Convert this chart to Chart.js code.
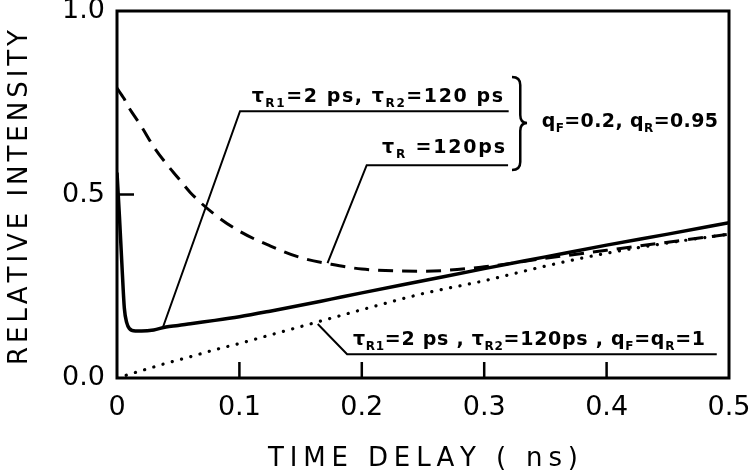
<!DOCTYPE html>
<html>
<head>
<meta charset="utf-8">
<script src="https://cdn.jsdelivr.net/npm/chart.js@4.4.1/dist/chart.umd.min.js"></script>
<style>
  html, body { margin: 0; padding: 0; background: #fff; }
  #wrap { width: 750px; height: 472px; position: relative; }
</style>
</head>
<body>
<div id="wrap"><canvas id="chart"></canvas></div>
<script>
// time delay (ns)
const times = [0, 0.002, 0.004, 0.006, 0.008, 0.01, 0.015, 0.02, 0.03, 0.04, 0.05, 0.06, 0.08,
  0.1, 0.125, 0.15, 0.175, 0.2, 0.25, 0.3, 0.35, 0.4, 0.45, 0.5];

// tauR1=2ps, tauR2=120ps, qF=0.2, qR=0.95 (solid)
const twoRotors = [0.56, 0.44, 0.31, 0.19, 0.15, 0.135, 0.128, 0.128, 0.131, 0.139, 0.143, 0.148, 0.157,
  0.167, 0.182, 0.198, 0.215, 0.232, 0.265, 0.298, 0.330, 0.362, 0.392, 0.423];

// tauR=120ps, qF=0.2, qR=0.95 (dashed)
const oneRotor = [0.79, 0.78, 0.77, 0.76, 0.745, 0.735, 0.71, 0.685, 0.63, 0.585, 0.545, 0.505, 0.445,
  0.40, 0.36, 0.328, 0.31, 0.297, 0.291, 0.303, 0.326, 0.348, 0.37, 0.392];

// tauR1=2ps, tauR2=120ps, qF=qR=1 (dotted)
const unitQ = [0, 0.002, 0.004, 0.006, 0.008, 0.01, 0.015, 0.02, 0.03, 0.04, 0.049, 0.058, 0.077,
  0.094, 0.117, 0.14, 0.163, 0.186, 0.23, 0.265, 0.305, 0.34, 0.368, 0.392];

const xTicks = [0, 0.1, 0.2, 0.3, 0.4, 0.5];
const yTicks = [0, 0.5, 1.0];

const toPoints = vals => times.map((t, i) => ({ x: t, y: vals[i] }));

// annotation text runs (sub = subscript)
const labelTop = [['τ'], ['R1', 1], ['=2 ps, τ'], ['R2', 1], ['=120 ps']];
const labelMid = [['τ'], ['R', 1], [' =120ps']];
const labelRight = [['q'], ['F', 1], ['=0.2, q'], ['R', 1], ['=0.95']];
const labelBottom = [['τ'], ['R1', 1], ['=2 ps , τ'], ['R2', 1], ['=120ps , q'], ['F', 1], ['=q'], ['R', 1], ['=1']];

const FONT = '"DejaVu Sans", sans-serif';

// draws runs so the text spans x0..x1
function fitRuns(ctx, runs, x0, x1, base, size, subSize) {
  let natural = 0, count = 0;
  runs.forEach(([txt, sub]) => {
    ctx.font = 'bold ' + (sub ? subSize : size) + 'px ' + FONT;
    for (const ch of txt) { natural += ctx.measureText(ch).width; count++; }
  });
  const gap = count > 1 ? (x1 - x0 - natural) / (count - 1) : 0;
  let x = x0;
  ctx.textAlign = 'left';
  ctx.textBaseline = 'alphabetic';
  runs.forEach(([txt, sub]) => {
    ctx.font = 'bold ' + (sub ? subSize : size) + 'px ' + FONT;
    for (const ch of txt) {
      ctx.fillText(ch, x, sub ? base + 5 : base);
      x += ctx.measureText(ch).width + gap;
    }
  });
}

function spacedText(ctx, txt, x0, x1, base, font) {
  ctx.font = font;
  let natural = 0;
  for (const ch of txt) natural += ctx.measureText(ch).width;
  const gap = (x1 - x0 - natural) / (txt.length - 1);
  let x = x0;
  ctx.textAlign = 'left';
  ctx.textBaseline = 'alphabetic';
  for (const ch of txt) {
    ctx.fillText(ch, x, base);
    x += ctx.measureText(ch).width + gap;
  }
}

const decorations = {
  id: 'decorations',
  afterDraw(chart) {
    const ctx = chart.ctx;
    const xs = chart.scales.x, ys = chart.scales.y;
    const a = chart.chartArea;
    const px = v => xs.getPixelForValue(v);
    const py = v => ys.getPixelForValue(v);
    ctx.save();
    ctx.strokeStyle = '#000';
    ctx.fillStyle = '#000';

    // frame
    ctx.lineWidth = 3;
    ctx.strokeRect(a.left, a.top, a.right - a.left, a.bottom - a.top);

    // inner tick marks
    ctx.lineWidth = 2.5;
    ctx.beginPath();
    xTicks.slice(1, -1).forEach(t => {
      ctx.moveTo(px(t), a.bottom);
      ctx.lineTo(px(t), a.bottom - 16);
    });
    yTicks.slice(1, -1).forEach(v => {
      ctx.moveTo(a.left, py(v));
      ctx.lineTo(a.left + 17, py(v));
    });
    ctx.stroke();

    // leader lines
    ctx.lineWidth = 2;
    const leader = pts => {
      ctx.beginPath();
      pts.forEach(([t, v], i) => i ? ctx.lineTo(px(t), py(v)) : ctx.moveTo(px(t), py(v)));
      ctx.stroke();
    };
    leader([[0.0376, 0.139], [0.1005, 0.727], [0.32, 0.727]]);
    leader([[0.172, 0.313], [0.204, 0.58], [0.3195, 0.58]]);
    leader([[0.164, 0.147], [0.188, 0.065], [0.49, 0.065]]);

    // brace
    const bx0 = px(0.3227), bx1 = px(0.335);
    const bt = py(0.82), bb = py(0.567), bm = py(0.695);
    const bc = bx0 + (bx1 - bx0) * 0.55;
    ctx.lineWidth = 2.5;
    ctx.beginPath();
    ctx.moveTo(bx0, bt);
    ctx.quadraticCurveTo(bc, bt, bc, bt + 8);
    ctx.lineTo(bc, bm - 8);
    ctx.quadraticCurveTo(bc, bm, bx1, bm);
    ctx.quadraticCurveTo(bc, bm, bc, bm + 8);
    ctx.lineTo(bc, bb - 8);
    ctx.quadraticCurveTo(bc, bb, bx0, bb);
    ctx.stroke();

    // annotation text
    fitRuns(ctx, labelTop, px(0.110), px(0.3154), py(0.752), 19, 12);
    fitRuns(ctx, labelMid, px(0.2165), px(0.317), py(0.613), 19, 12);
    fitRuns(ctx, labelRight, px(0.347), px(0.491), py(0.684), 19, 12);
    fitRuns(ctx, labelBottom, px(0.1928), px(0.4804), py(0.09), 19, 12);

    // axis titles
    spacedText(ctx, 'TIME DELAY ( ns)', 268, 578, 466, '26px ' + FONT);
    ctx.translate(27, 365);
    ctx.rotate(-Math.PI / 2);
    spacedText(ctx, 'RELATIVE INTENSITY', 0, 335, 0, '26px ' + FONT);
    ctx.restore();
  }
};

const lineStyle = {
  showLine: true,
  pointRadius: 0,
  borderColor: '#000',
  backgroundColor: '#000',
  fill: false,
  cubicInterpolationMode: 'monotone'
};

new Chart(document.getElementById('chart'), {
  type: 'scatter',
  data: {
    datasets: [
      { ...lineStyle, label: 'τR1=2ps, τR2=120ps, qF=0.2, qR=0.95', data: toPoints(twoRotors), borderWidth: 3.5 },
      { ...lineStyle, label: 'τR=120ps, qF=0.2, qR=0.95', data: toPoints(oneRotor), borderWidth: 3, borderDash: [15, 9] },
      { ...lineStyle, label: 'τR1=2ps, τR2=120ps, qF=qR=1', data: toPoints(unitQ), borderWidth: 3.2, borderDash: [0.1, 9.5], borderCapStyle: 'round' }
    ]
  },
  options: {
    responsive: true,
    maintainAspectRatio: false,
    animation: false,
    layout: { padding: { top: 11, right: 21, left: 0, bottom: 0 } },
    plugins: { legend: { display: false }, tooltip: { enabled: false } },
    scales: {
      x: {
        type: 'linear', min: 0, max: 0.5,
        afterBuildTicks: s => { s.ticks = xTicks.map(v => ({ value: v })); },
        afterFit: s => { s.height = 94; s.paddingLeft = 0; s.paddingRight = 0; },
        grid: { display: false, drawTicks: false },
        border: { display: false },
        ticks: {
          padding: 14, color: '#000', maxRotation: 0,
          font: { family: FONT, size: 27 },
          callback: v => v === 0 ? '0' : v.toFixed(1)
        }
      },
      y: {
        type: 'linear', min: 0, max: 1,
        afterBuildTicks: s => { s.ticks = yTicks.map(v => ({ value: v })); },
        afterFit: s => { s.width = 117; s.paddingTop = 0; s.paddingBottom = 0; },
        grid: { display: false, drawTicks: false },
        border: { display: false },
        ticks: {
          padding: 12, color: '#000',
          font: { family: FONT, size: 27 },
          callback: v => v.toFixed(1)
        }
      }
    }
  },
  plugins: [decorations]
});
</script>
</body>
</html>
